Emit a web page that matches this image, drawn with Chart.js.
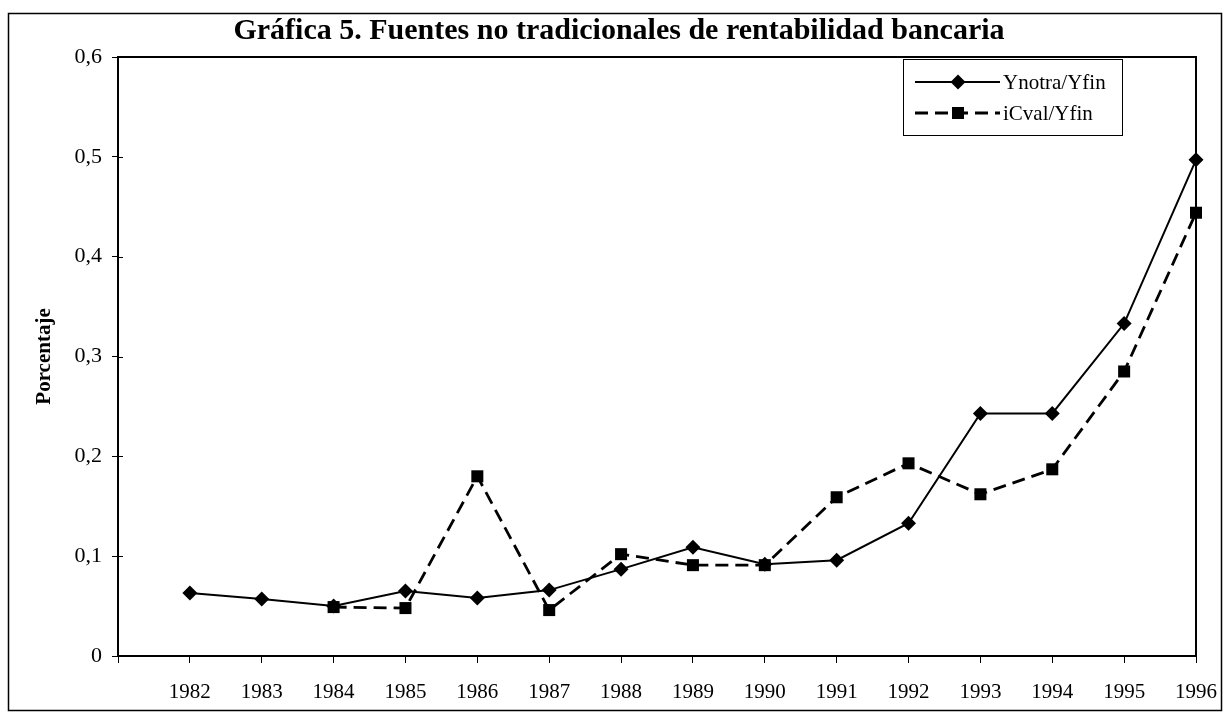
<!DOCTYPE html>
<html lang="es">
<head>
  <meta charset="UTF-8">
  <title>Gráfica 5. Fuentes no tradicionales de rentabilidad bancaria</title>
  <script src="https://cdn.jsdelivr.net/npm/chart.js"></script>
  <style>
    html, body { margin: 0; padding: 0; background: #fff; }
    #wrap { width: 1230px; height: 719px; position: relative; }
  </style>
</head>
<body>
  <div id="wrap">
    <canvas id="grafica"></canvas>
  </div>

  <script>
    // datos
    const years = [1982, 1983, 1984, 1985, 1986, 1987, 1988, 1989, 1990, 1991, 1992, 1993, 1994, 1995, 1996];
    const ynotra = [0.063, 0.057, 0.050, 0.065, 0.058, 0.066, 0.087, 0.109, 0.092, 0.096, 0.133, 0.243, 0.243, 0.333, 0.497];
    const icval = [null, null, 0.049, 0.048, 0.180, 0.046, 0.102, 0.091, 0.091, 0.159, 0.193, 0.162, 0.187, 0.285, 0.444];
    const yTicks = [0, 0.1, 0.2, 0.3, 0.4, 0.5, 0.6];
    const titulo = 'Gráfica 5. Fuentes no tradicionales de rentabilidad bancaria';

    const serif = "'Liberation Serif', 'Times New Roman', serif";

    const toPoints = vals => years.map((yr, i) => ({ x: yr, y: vals[i] }));

    // marco exterior, titulo, borde del area y leyenda dentro del grafico
    const marcoPlugin = {
      id: 'marco',
      afterDraw(chart) {
        const ctx = chart.ctx;
        const a = chart.chartArea;
        ctx.save();
        ctx.strokeStyle = '#000';
        ctx.lineWidth = 1.5;
        ctx.strokeRect(8.5, 13.5, 1213, 697);
        ctx.lineWidth = 2;
        ctx.strokeRect(a.left, a.top, a.right - a.left, a.bottom - a.top);

        // titulo
        ctx.fillStyle = '#000';
        ctx.font = 'bold 30px ' + serif;
        ctx.textAlign = 'center';
        ctx.textBaseline = 'middle';
        ctx.fillText(titulo, 619, 31);

        // marcas cruzadas del eje y
        ctx.lineWidth = 1;
        const ys = chart.scales.y;
        yTicks.forEach(v => {
          const py = Math.round(ys.getPixelForValue(v)) + 0.5;
          ctx.beginPath();
          ctx.moveTo(a.left, py);
          ctx.lineTo(a.left + 5, py);
          ctx.stroke();
        });

        // leyenda
        const bx = 903, by = 59, bw = 219, bh = 76;
        ctx.lineWidth = 1;
        ctx.fillStyle = '#fff';
        ctx.fillRect(bx, by, bw, bh);
        ctx.strokeRect(bx + 0.5, by + 0.5, bw, bh);
        chart.data.datasets.forEach((ds, i) => {
          const y = by + 23 + i * 31;
          ctx.beginPath();
          ctx.strokeStyle = '#000';
          ctx.setLineDash(ds.borderDash || []);
          ctx.lineWidth = ds.borderWidth;
          ctx.moveTo(bx + 12, y);
          ctx.lineTo(bx + 97, y);
          ctx.stroke();
          ctx.setLineDash([]);
          ctx.fillStyle = '#000';
          const r = ds.pointRadius;
          const mx = bx + 55;
          if (ds.pointStyle === 'rectRot') {
            ctx.beginPath();
            ctx.moveTo(mx, y - r);
            ctx.lineTo(mx + r, y);
            ctx.lineTo(mx, y + r);
            ctx.lineTo(mx - r, y);
            ctx.closePath();
            ctx.fill();
          } else {
            const h = r * Math.SQRT1_2;
            ctx.fillRect(mx - h, y - h, h * 2, h * 2);
          }
          ctx.font = '21px ' + serif;
          ctx.textBaseline = 'middle';
          ctx.textAlign = 'left';
          ctx.fillText(ds.label, bx + 100, y + 1);
        });
        ctx.restore();
      }
    };

    const ctx = document.getElementById('grafica').getContext('2d');
    new Chart(ctx, {
      type: 'line',
      data: {
        datasets: [
          {
            label: 'Ynotra/Yfin',
            data: toPoints(ynotra),
            borderColor: '#000',
            backgroundColor: '#000',
            borderWidth: 2,
            pointStyle: 'rectRot',
            pointRadius: 7.5,
            pointBorderWidth: 0,
            tension: 0,
            clip: false
          },
          {
            label: 'iCval/Yfin',
            data: toPoints(icval),
            borderColor: '#000',
            backgroundColor: '#000',
            borderWidth: 2.8,
            borderDash: [13, 7],
            pointStyle: 'rect',
            pointRadius: 8.5,
            pointBorderWidth: 0,
            tension: 0,
            spanGaps: false,
            clip: false
          }
        ]
      },
      options: {
        responsive: true,
        maintainAspectRatio: false,
        animation: false,
        layout: { padding: { left: 8, right: 34, top: 57, bottom: 0 } },
        plugins: {
          legend: { display: false },
          tooltip: { enabled: false },
          title: { display: false }
        },
        scales: {
          x: {
            type: 'linear',
            min: years[0] - 1,
            max: years[years.length - 1],
            afterFit: s => { s.height = 63; s.paddingRight = 0; s.paddingLeft = 0; },
            afterBuildTicks: s => { s.ticks = [years[0] - 1, ...years].map(v => ({ value: v })); },
            ticks: {
              color: '#000',
              font: { family: serif, size: 21 },
              padding: 17,
              maxRotation: 0,
              autoSkip: false,
              callback: v => (v < years[0] ? '' : String(v))
            },
            grid: { drawOnChartArea: false, tickLength: 7, color: '#000' },
            border: { color: '#000', width: 2 }
          },
          y: {
            min: 0,
            max: 0.6,
            afterFit: s => { s.width = 110; },
            afterBuildTicks: s => { s.ticks = yTicks.map(v => ({ value: v })); },
            ticks: {
              color: '#000',
              font: { family: serif, size: 22 },
              padding: 10,
              callback: v => (v === 0 ? '0' : v.toFixed(1).replace('.', ','))
            },
            grid: { drawOnChartArea: false, tickLength: 6, color: '#000' },
            border: { color: '#000', width: 2 },
            title: {
              display: true,
              text: 'Porcentaje',
              color: '#000',
              font: { family: serif, size: 21, weight: 'bold' },
              padding: { top: 24, bottom: 0 }
            }
          }
        }
      },
      plugins: [marcoPlugin]
    });
  </script>
</body>
</html>
